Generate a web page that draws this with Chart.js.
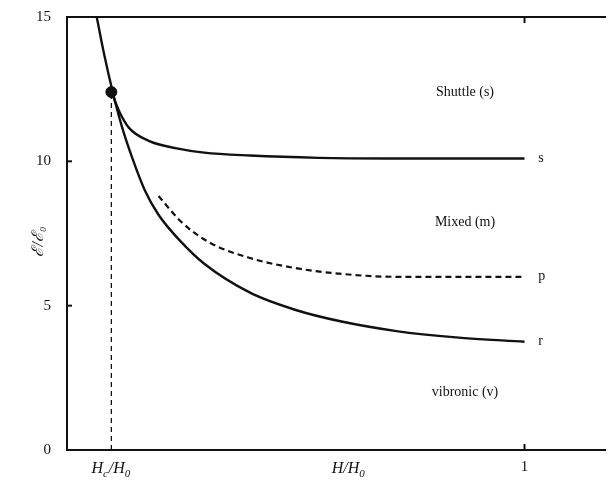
<!DOCTYPE html>
<html>
<head>
<meta charset="utf-8">
<script src="https://cdn.jsdelivr.net/npm/chart.js@4.4.1/dist/chart.umd.min.js"></script>
<style>
  html, body { margin: 0; padding: 0; background: #fff; }
  canvas { display: block; }
</style>
</head>
<body>
<canvas id="phaseChart" width="612" height="481"></canvas>
<script>
// curve r (vibronic / mixed boundary)
const rX = [0.065, 0.08, 0.1, 0.12, 0.143, 0.17, 0.2, 0.25, 0.3, 0.4, 0.5, 0.6, 0.72, 0.85, 1.0];
const rY = [15, 13.8, 12.4, 11.2, 10.1, 9.0, 8.15, 7.2, 6.45, 5.45, 4.85, 4.45, 4.12, 3.9, 3.75];
// curve s (shuttle / mixed boundary)
const sX = [0.097, 0.115, 0.136, 0.18, 0.24, 0.3, 0.4, 0.55, 0.7, 1.0];
const sY = [12.4, 11.7, 11.15, 10.7, 10.45, 10.3, 10.2, 10.12, 10.1, 10.1];
// curve p (dashed)
const pX = [0.2, 0.25, 0.31, 0.4, 0.5, 0.6, 0.72, 1.0];
const pY = [8.8, 7.9, 7.2, 6.65, 6.3, 6.1, 6.0, 6.0];
// critical point
const critX = 0.097;
const critY = 12.4;

const yTicks = [0, 5, 10, 15];
const curveNames = ['s', 'p', 'r'];
const curveEndY = [10.1, 6.0, 3.75];
const regionNames = ['Shuttle (s)', 'Mixed (m)', 'vibronic (v)'];
const regionY = [12.4, 7.9, 2.0];
const regionX = 0.87;

const toPts = (xs, ys) => xs.map((x, i) => ({ x: x, y: ys[i] }));
const INK = '#111';
const SERIF = '"Liberation Serif", "DejaVu Serif", serif';

// draws H_c/H_0 style text with subscripts, centred on cx
function drawParts(ctx, parts, cx, cy) {
    let total = 0;
    parts.forEach(p => {
        ctx.font = p[1] === 'sub' ? 'italic 11px ' + SERIF : 'italic 16px ' + SERIF;
        total += ctx.measureText(p[0]).width + (p[1] === 'sub' ? 1 : 0);
    });
    let x = cx - total / 2;
    ctx.textAlign = 'left';
    parts.forEach(p => {
        const sub = p[1] === 'sub';
        ctx.font = sub ? 'italic 11px ' + SERIF : 'italic 16px ' + SERIF;
        ctx.fillText(p[0], x, sub ? cy + 5 : cy);
        x += ctx.measureText(p[0]).width + (sub ? 1 : 0);
    });
}

const annot = {
    id: 'annot',
    afterDraw(chart) {
        const ctx = chart.ctx;
        const xs = chart.scales.x, ys = chart.scales.y;
        ctx.save();
        ctx.strokeStyle = INK;
        ctx.fillStyle = INK;
        ctx.lineWidth = 2;

        // small inward tick marks
        yTicks.forEach(v => {
            if (v === 0) return;
            const py = ys.getPixelForValue(v);
            ctx.beginPath();
            ctx.moveTo(xs.left, py);
            ctx.lineTo(xs.left + 5, py);
            ctx.stroke();
        });
        const p1 = xs.getPixelForValue(1);
        ctx.beginPath();
        ctx.moveTo(p1, ys.bottom); ctx.lineTo(p1, ys.bottom - 6);
        ctx.moveTo(p1, ys.top); ctx.lineTo(p1, ys.top + 6);
        ctx.stroke();

        // x labels
        ctx.textBaseline = 'middle';
        const ly = ys.bottom + 19;
        drawParts(ctx, [['H', 'i'], ['c', 'sub'], ['/', 'i'], ['H', 'i'], ['0', 'sub']], xs.getPixelForValue(critX), ly);
        drawParts(ctx, [['H', 'i'], ['/', 'i'], ['H', 'i'], ['0', 'sub']], xs.getPixelForValue(0.616), ly);
        ctx.font = '15px ' + SERIF;
        ctx.textAlign = 'center';
        ctx.fillText('1', p1, ly - 2);

        // y title
        ctx.save();
        ctx.translate(39, (ys.top + ys.bottom) / 2 + 8);
        ctx.rotate(-Math.PI / 2);
        ctx.font = 'italic 16px ' + SERIF;
        ctx.textAlign = 'center';
        ctx.fillText('\u2130/\u2130\u2080', 0, 0);
        ctx.restore();

        // curve end labels
        ctx.font = '14px ' + SERIF;
        ctx.textAlign = 'left';
        curveNames.forEach((n, i) => {
            ctx.fillText(n, xs.getPixelForValue(1.03), ys.getPixelForValue(curveEndY[i]));
        });

        // region labels
        ctx.textAlign = 'center';
        regionNames.forEach((n, i) => {
            ctx.fillText(n, xs.getPixelForValue(regionX), ys.getPixelForValue(regionY[i]));
        });
        ctx.restore();
    }
};

const noPad = s => { s.paddingLeft = 0; s.paddingRight = 0; };

new Chart(document.getElementById('phaseChart'), {
    type: 'scatter',
    data: {
        datasets: [
            {
                data: toPts(rX, rY),
                showLine: true,
                borderColor: INK,
                borderWidth: 2.4,
                pointRadius: 0,
                cubicInterpolationMode: 'monotone'
            },
            {
                data: toPts(sX, sY),
                showLine: true,
                borderColor: INK,
                borderWidth: 2.4,
                pointRadius: 0,
                cubicInterpolationMode: 'monotone'
            },
            {
                data: toPts(pX, pY),
                showLine: true,
                borderColor: INK,
                borderWidth: 2.2,
                borderDash: [6, 4],
                pointRadius: 0,
                cubicInterpolationMode: 'monotone'
            },
            {
                data: [{ x: critX, y: 0 }, { x: critX, y: critY }],
                showLine: true,
                borderColor: INK,
                borderWidth: 1.3,
                borderDash: [5, 4],
                pointRadius: 0
            },
            {
                data: [{ x: critX, y: critY }],
                pointRadius: 5.5,
                pointBackgroundColor: INK,
                pointBorderColor: INK
            }
        ]
    },
    options: {
        responsive: false,
        animation: false,
        layout: { padding: { top: 13, right: 0, bottom: 0, left: 0 } },
        plugins: {
            legend: { display: false },
            tooltip: { enabled: false }
        },
        scales: {
            x: {
                type: 'linear',
                min: 0,
                max: 1.177,
                grid: { display: false },
                border: { color: INK, width: 2 },
                ticks: { display: false },
                afterFit: s => { s.height = 31; noPad(s); }
            },
            x2: {
                type: 'linear',
                position: 'top',
                min: 0,
                max: 1.177,
                grid: { display: false },
                border: { color: INK, width: 2 },
                ticks: { display: false },
                afterFit: s => { s.height = 0; noPad(s); }
            },
            y: {
                min: 0,
                max: 15,
                afterBuildTicks: s => { s.ticks = yTicks.map(v => ({ value: v })); },
                grid: { display: false },
                border: { color: INK, width: 2 },
                ticks: {
                    color: INK,
                    padding: 8,
                    font: { family: SERIF, size: 15 }
                },
                afterFit: s => { s.width = 67; }
            }
        }
    },
    plugins: [annot]
});
</script>
</body>
</html>
